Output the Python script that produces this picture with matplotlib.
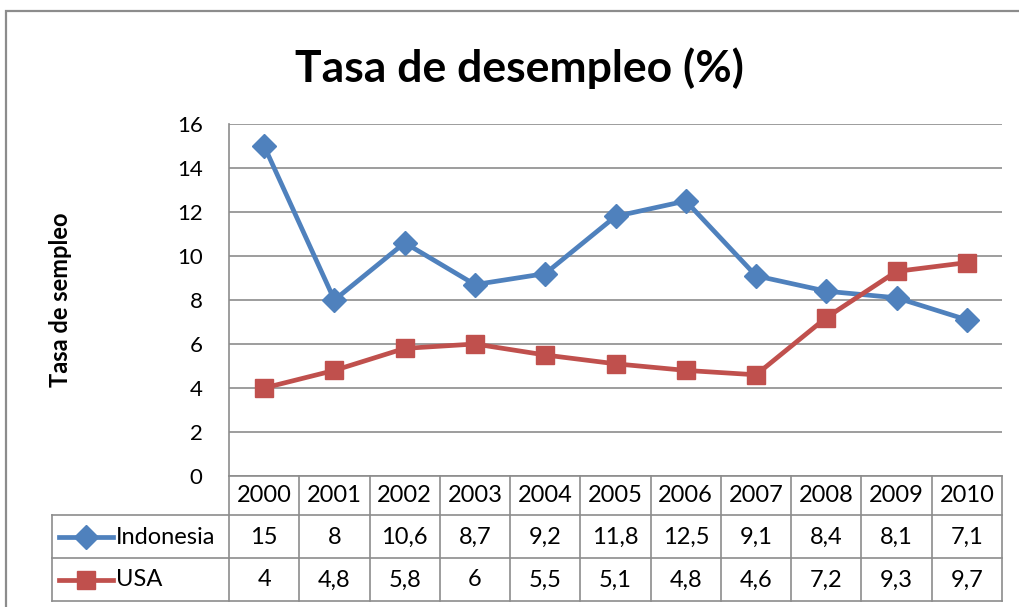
import matplotlib
matplotlib.use("Agg")
import matplotlib.pyplot as plt
from matplotlib.lines import Line2D
from matplotlib.patches import Rectangle
import matplotlib.transforms as mtrans

years = ["2000", "2001", "2002", "2003", "2004", "2005", "2006", "2007", "2008", "2009", "2010"]
indonesia = [15, 8, 10.6, 8.7, 9.2, 11.8, 12.5, 9.1, 8.4, 8.1, 7.1]
usa = [4, 4.8, 5.8, 6, 5.5, 5.1, 4.8, 4.6, 7.2, 9.3, 9.7]
indonesia_labels = ["15", "8", "10,6", "8,7", "9,2", "11,8", "12,5", "9,1", "8,4", "8,1", "7,1"]
usa_labels = ["4", "4,8", "5,8", "6", "5,5", "5,1", "4,8", "4,6", "7,2", "9,3", "9,7"]
yticks = [0, 2, 4, 6, 8, 10, 12, 14, 16]

plt.rcParams['font.family'] = ['Lato', 'DejaVu Sans']
W, H = 1019, 607
fig = plt.figure(figsize=(W / 100, H / 100), dpi=100)

GRAY = "#8c8c8c"
BLUE = "#4F81BD"
RED = "#C0504D"
FS = 16
TFS = 17

# outer chart border (extends beyond right/bottom)
fig.patches.append(Rectangle((6 / W, -0.05), 1.2, 1 - 11 / H + 0.05, transform=fig.transFigure,
                             fill=False, edgecolor=GRAY, lw=1.6))

L, R, T, B = 229, 1002, 124, 476
ax = fig.add_axes([L / W, 1 - B / H, (R - L) / W, (B - T) / H])
n = len(years)
x = list(range(n))
ax.set_xlim(-0.5, n - 0.5)
ax.set_ylim(0, 16)
ax.set_yticks(yticks)
ax.set_yticklabels([str(v) for v in yticks], fontsize=FS)
ax.set_xticks([])
ax.tick_params(axis='y', length=0, pad=19)
for s in ["top", "right", "bottom"]:
    ax.spines[s].set_visible(False)
ax.spines["left"].set_color(GRAY)
ax.spines["left"].set_linewidth(1.2)
ax.grid(axis='y', color=GRAY, lw=1.2)
ax.set_axisbelow(True)

ax.plot(x, indonesia, color=BLUE, lw=3.4, marker='D', markersize=12, zorder=3, clip_on=False)
ax.plot(x, usa, color=RED, lw=3.4, marker='s', markersize=13, zorder=3, clip_on=False)

ax.set_ylabel("Tasa de sempleo", fontsize=17, fontweight='bold')
ax.yaxis.set_label_coords((72 - L) / (R - L), 0.5)

fig.text(519 / W, 1 - 68 / H, "Tasa de desempleo (%)", fontsize=32, fontweight='bold',
         ha='center', va='center')

# data table below axes
tr = mtrans.blended_transform_factory(ax.transData, ax.transAxes)
ph = B - T
def ay(py):
    return (B - py) / ph

def px2x(px):
    return (px - L) / (R - L) * n - 0.5

legx0 = 52
lx = px2x(legx0)
# horizontal lines
ax.add_line(Line2D([-0.5, n - 0.5], [ay(476)] * 2, transform=tr, color=GRAY, lw=1.2, clip_on=False))
for py in [515, 558, 601]:
    ax.add_line(Line2D([lx, n - 0.5], [ay(py)] * 2, transform=tr, color=GRAY, lw=1.2, clip_on=False))
# vertical lines
for i in range(n + 1):
    ax.add_line(Line2D([i - 0.5, i - 0.5], [ay(476), ay(601)], transform=tr, color=GRAY, lw=1.2, clip_on=False))
ax.add_line(Line2D([lx, lx], [ay(515), ay(601)], transform=tr, color=GRAY, lw=1.2, clip_on=False))

for i, yr in enumerate(years):
    ax.text(i, ay(496), yr, transform=tr, ha='center', va='center', fontsize=TFS)
    ax.text(i, ay(537), indonesia_labels[i], transform=tr, ha='center', va='center', fontsize=TFS)
    ax.text(i, ay(580), usa_labels[i], transform=tr, ha='center', va='center', fontsize=TFS)

# legend keys in table
for py, col, mk, ms, name in [(537, BLUE, 'D', 12, "Indonesia"), (580, RED, 's', 13, "USA")]:
    ax.add_line(Line2D([px2x(59), px2x(113)], [ay(py)] * 2, transform=tr, color=col, lw=3.4,
                       clip_on=False))
    ax.add_line(Line2D([px2x(86)], [ay(py)], transform=tr, color=col, marker=mk, markersize=ms,
                       clip_on=False, lw=0))
    ax.text(px2x(116), ay(py), name, transform=tr, ha='left', va='center', fontsize=TFS)

fig.savefig("out.png", dpi=100)
